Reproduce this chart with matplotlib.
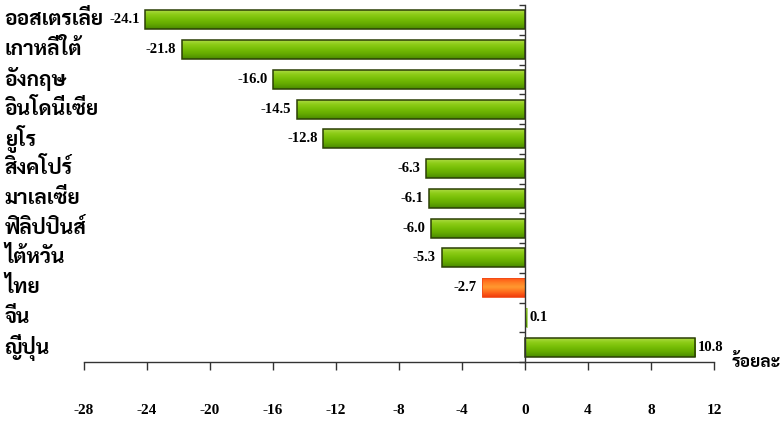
import numpy as np
import matplotlib
matplotlib.use("Agg")
import matplotlib.pyplot as plt
from matplotlib.colors import LinearSegmentedColormap
from matplotlib.transforms import blended_transform_factory

# Import growth by source economy (percent, year on year)
countries = ["ออสเตรเลีย", "เกาหลีใต้", "อังกฤษ", "อินโดนีเซีย", "ยูโร", "สิงคโปร์",
             "มาเลเซีย", "ฟิลิปปินส์", "ไต้หวัน", "ไทย", "จีน", "ญี่ปุ่น"]
values = [-24.1, -21.8, -16.0, -14.5, -12.8, -6.3, -6.1, -6.0, -5.3, -2.7, 0.1, 10.8]
highlight = "ไทย"
x_ticks = [-28, -24, -20, -16, -12, -8, -4, 0, 4, 8, 12]
unit_label = "ร้อยละ"

THAI_FONT = ["Sarabun", "DejaVu Sans"]
NUM_FONT = "Liberation Serif"

green_map = LinearSegmentedColormap.from_list(
    "green_bar", ["#b4de50", "#8ecd18", "#76be06", "#64aa00", "#4a8a00"])
orange_map = LinearSegmentedColormap.from_list(
    "orange_bar", ["#ff4a12", "#ff7a22", "#ff9a30", "#ff6a1c", "#f03c0c"])

fig = plt.figure(figsize=(7.8, 4.24), dpi=100)
ax = fig.add_axes([0.1077, 0.146, 0.8077, 0.842])

pos = np.arange(len(countries))
bars = ax.barh(pos, values, height=0.64, color="#76be06", zorder=2)

# vertical shading inside each bar
grad = np.linspace(0, 1, 64).reshape(-1, 1)
for name, bar in zip(countries, bars):
    cmap = orange_map if name == highlight else green_map
    x0, y0 = bar.get_x(), bar.get_y()
    w, h = bar.get_width(), bar.get_height()
    im = ax.imshow(grad, cmap=cmap, aspect="auto", interpolation="bicubic",
                   extent=(x0, x0 + w, y0 + h, y0), zorder=3)
    im.set_clip_path(bar)
    bar.set_facecolor("none")
    bar.set_zorder(4)
    if name == highlight:
        bar.set_edgecolor("#f04a18")
        bar.set_linewidth(0.6)
    elif abs(bar.get_width()) < 0.5:
        bar.set_edgecolor("#76be06")
        bar.set_linewidth(0.4)
    else:
        bar.set_edgecolor("#2b3f05")
        bar.set_linewidth(1.1)

ax.set_xlim(x_ticks[0], x_ticks[-1])
ax.set_ylim(len(countries) - 0.5, -0.5)

# axes: zero line as the category axis, baseline along the bottom
for side in ("top", "right"):
    ax.spines[side].set_visible(False)
ax.spines["left"].set_position(("data", 0))
ax.spines["left"].set_color("#333333")
ax.spines["left"].set_linewidth(1.0)
ax.spines["left"].set_zorder(5)
ax.spines["bottom"].set_color("#333333")
ax.spines["bottom"].set_linewidth(1.0)

ax.set_yticks(np.arange(len(countries) + 1) - 0.5)
ax.tick_params(axis="y", direction="out", length=4, width=1.0,
               color="#333333", labelleft=False)
ax.set_xticks(x_ticks)
ax.set_xticklabels([str(t) for t in x_ticks])
ax.tick_params(axis="x", direction="out", length=6, width=1.0,
               color="#333333", pad=24)
for lab in ax.get_xticklabels():
    lab.set_fontfamily(NUM_FONT)
    lab.set_fontweight("bold")
    lab.set_fontsize(11)

# category names flush with the left edge of the figure
name_tr = blended_transform_factory(fig.transFigure, ax.transData)
for p, name in zip(pos, countries):
    ax.text(0.006, p, name, transform=name_tr, ha="left", va="center",
            family=THAI_FONT, fontweight="bold", fontsize=15, clip_on=False)

# value labels at the bar ends
for p, v in zip(pos, values):
    if v < 0:
        ax.annotate(f"{v:.1f}", xy=(v, p), xytext=(-4, 0), textcoords="offset points",
                    ha="right", va="center", family=NUM_FONT, fontweight="bold",
                    fontsize=10.5)
    else:
        ax.annotate(f"{v:.1f}", xy=(v, p), xytext=(2, 0), textcoords="offset points",
                    ha="left", va="center", family=NUM_FONT, fontweight="bold",
                    fontsize=10.5)

ax.annotate(unit_label, xy=(x_ticks[-1], len(countries) - 0.5), xytext=(13, 0),
            textcoords="offset points", ha="left", va="center",
            family=THAI_FONT, fontweight="bold", fontsize=12.5, annotation_clip=False)

fig.savefig("out.png", dpi=100)
